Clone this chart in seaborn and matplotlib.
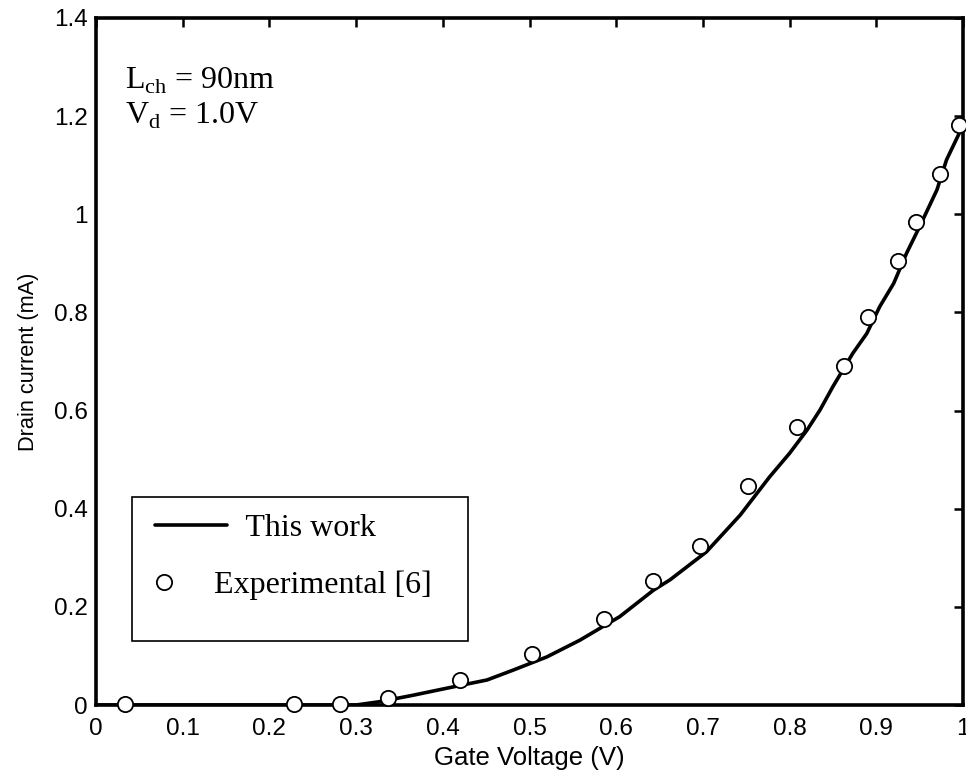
import matplotlib
matplotlib.use("Agg")
import matplotlib.pyplot as plt
from matplotlib.legend_handler import HandlerLine2D
from matplotlib.patches import Rectangle
import seaborn as sns
import pandas as pd

# Model curve ("This work")
model_vg = [0.0, 0.10, 0.20, 0.30, 0.328, 0.366, 0.404, 0.451, 0.481, 0.520, 0.558,
            0.604, 0.643, 0.662, 0.704, 0.743, 0.777, 0.800, 0.820, 0.835, 0.850,
            0.873, 0.889, 0.904, 0.920, 0.935, 0.950, 0.970, 0.981, 0.997, 1.0]
model_id = [0.0, 0.0, 0.0, 0.0, 0.007, 0.020, 0.034, 0.051, 0.071, 0.098, 0.132,
            0.180, 0.234, 0.255, 0.312, 0.387, 0.465, 0.513, 0.560, 0.601, 0.649,
            0.717, 0.757, 0.812, 0.859, 0.921, 0.975, 1.050, 1.111, 1.170, 1.180]

# Experimental [6]
exp_vg = [0.033, 0.228, 0.282, 0.337, 0.420, 0.503, 0.586, 0.642, 0.697, 0.752,
          0.809, 0.863, 0.891, 0.925, 0.946, 0.974, 0.995]
exp_id = [0.003, 0.003, 0.003, 0.015, 0.050, 0.103, 0.176, 0.252, 0.323, 0.447,
          0.566, 0.691, 0.791, 0.905, 0.985, 1.082, 1.182]

x_ticks = [0, 0.1, 0.2, 0.3, 0.4, 0.5, 0.6, 0.7, 0.8, 0.9, 1.0]
x_tick_labels = ["0", "0.1", "0.2", "0.3", "0.4", "0.5", "0.6", "0.7", "0.8", "0.9", "1"]
y_ticks = [0, 0.2, 0.4, 0.6, 0.8, 1.0, 1.2, 1.4]
y_tick_labels = ["0", "0.2", "0.4", "0.6", "0.8", "1", "1.2", "1.4"]

sns.set_style("white")
plt.rcParams["font.family"] = ["Liberation Sans", "DejaVu Sans"]
plt.rcParams["text.color"] = "black"
plt.rcParams["axes.labelcolor"] = "black"
plt.rcParams["xtick.color"] = "black"
plt.rcParams["ytick.color"] = "black"


class LeftMarkerHandler(HandlerLine2D):
    """Single legend marker placed near the left end of the handle box."""
    def get_xdata(self, legend, xdescent, ydescent, width, height, fontsize):
        x0 = -xdescent
        x1 = -xdescent + 0.24 * width
        return [x0, x1], [(x0 + x1) / 2]


fig = plt.figure(figsize=(9.66, 7.75), dpi=100)
ax = fig.add_axes([96 / 966, 70 / 775, 867 / 966, 687 / 775])

model_df = pd.DataFrame({"vg": model_vg, "id": model_id})

sns.lineplot(data=model_df, x="vg", y="id", ax=ax, color="black", lw=2.6,
             label="    This work", sort=False, zorder=2)
exp_line, = ax.plot(exp_vg, exp_id, linestyle="none", marker="o", markersize=11,
                    markerfacecolor="white", markeredgecolor="black",
                    markeredgewidth=1.3, label="Experimental [6]", zorder=3,
                    clip_on=False)

ax.set_xlim(0, 1)
ax.set_ylim(0, 1.4)
ax.set_xticks(x_ticks)
ax.set_xticklabels(x_tick_labels)
ax.set_yticks(y_ticks)
ax.set_yticklabels(y_tick_labels)
ax.tick_params(axis="both", direction="in", length=6.5, width=1.8, labelsize=17.5,
               top=True, right=True, colors="black")
ax.tick_params(axis="x", pad=9.5)
ax.tick_params(axis="y", pad=6)
for s in ax.spines.values():
    s.set_visible(True)
    s.set_linewidth(2.6)
    s.set_color("black")

ax.set_xlabel("Gate Voltage (V)", fontsize=18.5, labelpad=4)
ax.set_ylabel("Drain current (mA)", fontsize=15.7, labelpad=11)

serif = ["Liberation Serif", "DejaVu Serif"]

# legend frame (MATLAB-style box)
ax.add_patch(Rectangle((0.0415, 0.093), 0.3875, 0.21, transform=ax.transAxes,
                       facecolor="white", edgecolor="black", lw=1.2, zorder=4))
handles, labels = ax.get_legend_handles_labels()
leg = ax.legend(handles, labels, loc="upper left", bbox_to_anchor=(0.068, 0.278),
                frameon=False, prop={"family": serif, "size": 23},
                handlelength=2.25, handletextpad=-0.40, borderpad=0,
                labelspacing=0.85, borderaxespad=0,
                handler_map={exp_line: LeftMarkerHandler(numpoints=1)})
leg.set_zorder(5)

ax.text(0.033, 0.897, r"L$_{\mathregular{ch}}$ = 90nm", transform=ax.transAxes,
        fontsize=23, family=serif, ha="left", va="baseline")
ax.text(0.033, 0.846, r"V$_{\mathregular{d}}$ = 1.0V", transform=ax.transAxes,
        fontsize=23, family=serif, ha="left", va="baseline")

fig.savefig("out.png", dpi=100)
